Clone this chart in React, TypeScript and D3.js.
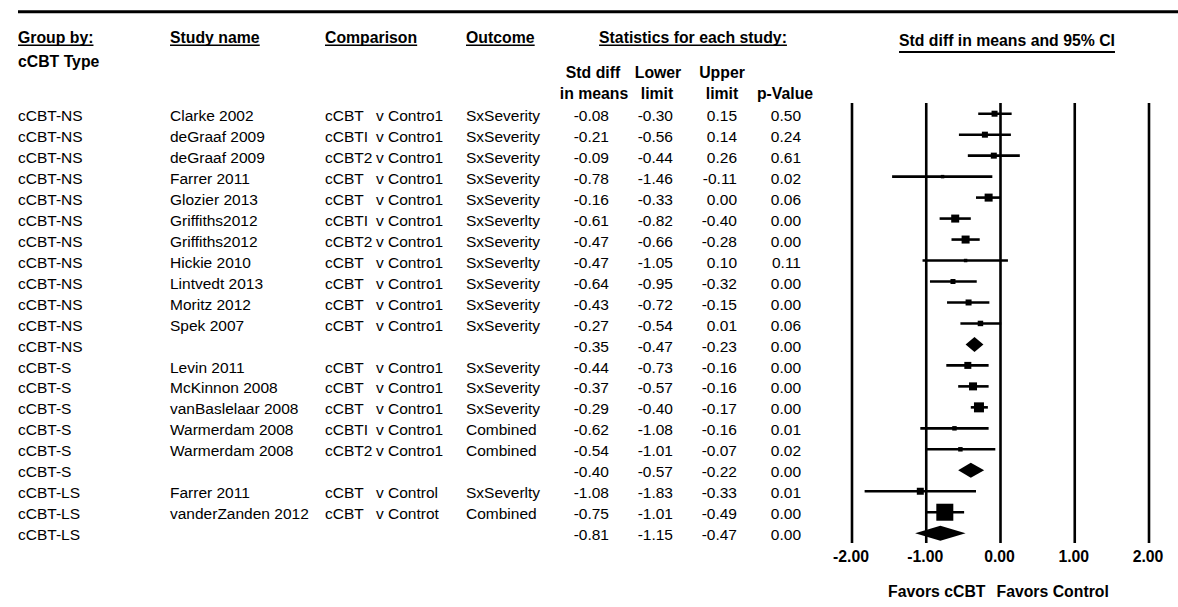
import React, { useLayoutEffect, useRef, useState } from "react";
import * as d3 from "d3";

// ---------- data ----------
const groups = [
  "cCBT-NS", "cCBT-NS", "cCBT-NS", "cCBT-NS", "cCBT-NS", "cCBT-NS", "cCBT-NS",
  "cCBT-NS", "cCBT-NS", "cCBT-NS", "cCBT-NS", "cCBT-NS",
  "cCBT-S", "cCBT-S", "cCBT-S", "cCBT-S", "cCBT-S", "cCBT-S",
  "cCBT-LS", "cCBT-LS", "cCBT-LS",
];
const studies = [
  "Clarke 2002", "deGraaf 2009", "deGraaf 2009", "Farrer 2011", "Glozier 2013",
  "Griffiths2012", "Griffiths2012", "Hickie 2010", "Lintvedt 2013", "Moritz 2012",
  "Spek 2007", "",
  "Levin 2011", "McKinnon 2008", "vanBaslelaar 2008", "Warmerdam 2008", "Warmerdam 2008", "",
  "Farrer 2011", "vanderZanden 2012", "",
];
const comparisonArms = [
  "cCBT", "cCBTI", "cCBT2", "cCBT", "cCBT", "cCBTI", "cCBT2", "cCBT", "cCBT", "cCBT",
  "cCBT", "",
  "cCBT", "cCBT", "cCBT", "cCBTI", "cCBT2", "",
  "cCBT", "cCBT", "",
];
const comparisonControls = [
  "v Contro1", "v Contro1", "v Contro1", "v Contro1", "v Contro1", "v Contro1", "v Contro1",
  "v Contro1", "v Contro1", "v Contro1", "v Contro1", "",
  "v Contro1", "v Contro1", "v Contro1", "v Contro1", "v Contro1", "",
  "v Control", "v Controt", "",
];
const outcomes = [
  "SxSeverity", "SxSeverity", "SxSeverity", "SxSeverity", "SxSeverity", "SxSeverlty",
  "SxSeverity", "SxSeverlty", "SxSeverity", "SxSeverity", "SxSeverity", "",
  "SxSeverity", "SxSeverity", "SxSeverity", "Combined", "Combined", "",
  "SxSeverlty", "Combined", "",
];
const stdDiffs = [
  -0.08, -0.21, -0.09, -0.78, -0.16, -0.61, -0.47, -0.47, -0.64, -0.43, -0.27, -0.35,
  -0.44, -0.37, -0.29, -0.62, -0.54, -0.40,
  -1.08, -0.75, -0.81,
];
const lowerLimits = [
  -0.30, -0.56, -0.44, -1.46, -0.33, -0.82, -0.66, -1.05, -0.95, -0.72, -0.54, -0.47,
  -0.73, -0.57, -0.40, -1.08, -1.01, -0.57,
  -1.83, -1.01, -1.15,
];
const upperLimits = [
  0.15, 0.14, 0.26, -0.11, 0.00, -0.40, -0.28, 0.10, -0.32, -0.15, 0.01, -0.23,
  -0.16, -0.16, -0.17, -0.16, -0.07, -0.22,
  -0.33, -0.49, -0.47,
];
const pValues = [
  0.50, 0.24, 0.61, 0.02, 0.06, 0.00, 0.00, 0.11, 0.00, 0.00, 0.06, 0.00,
  0.00, 0.00, 0.00, 0.01, 0.02, 0.00,
  0.01, 0.00, 0.00,
];
// relative study weights (drive the box sizes); summary rows have none
const weights = [
  36, 36, 36, 12, 64, 64, 64, 12, 25, 36, 30, 0,
  49, 64, 100, 20, 20, 0,
  49, 289, 0,
];
const isSummary = studies.map((s) => s === "");
const tickValues = [-2, -1, 0, 1, 2];
const tickLabels = ["-2.00", "-1.00", "0.00", "1.00", "2.00"];

// ---------- layout ----------
const W = 1178;
const H = 607;
const FONT = "'Liberation Sans', Arial, Helvetica, sans-serif";
const FS = 15.5;
const FSB = 15.8;

const xScale = d3.scaleLinear().domain([-2, 2]).range([852, 1149]);
const rowScale = d3.scaleLinear().domain([0, stdDiffs.length - 1]).range([115.5, 535]);
const boxScale = d3.scaleSqrt().domain([0, 289]).range([0, 17]);

const fmt = (v: number) => v.toFixed(2);

function UText(props: {
  x: number; y: number; anchor?: string; gap?: number; sw?: number; children: string;
}) {
  const { x, y, anchor = "start", gap = 2.2, sw = 1.4, children } = props;
  const ref = useRef<SVGTextElement>(null);
  const [bb, setBb] = useState<{ x: number; w: number } | null>(null);
  useLayoutEffect(() => {
    if (ref.current) {
      const b = ref.current.getBBox();
      setBb({ x: b.x, w: b.width });
    }
  }, []);
  return (
    <g>
      <text ref={ref} x={x} y={y} textAnchor={anchor} fontWeight="bold" fontSize={FSB}>
        {children}
      </text>
      {bb && (
        <line x1={bb.x} x2={bb.x + bb.w} y1={y + gap} y2={y + gap} stroke="#000" strokeWidth={sw} />
      )}
    </g>
  );
}

export default function App() {
  const colGroup = 18;
  const colStudy = 170;
  const colArm = 325;
  const colCtrl = 376;
  const colOutcome = 466;
  const colEff = 609;
  const colLow = 673;
  const colUp = 737;
  const colP = 801;
  const plotTop = 103;
  const plotBottom = 543;

  return (
    <svg
      width={W}
      height={H}
      style={{ position: "absolute", left: 0, top: 0, background: "#fff" }}
      fontFamily={FONT}
      fontSize={FS}
      fill="#000"
    >
      <rect x={0} y={0} width={W} height={H} fill="#fff" />
      {/* top rule */}
      <line x1={18} x2={W} y1={11.8} y2={11.8} stroke="#000" strokeWidth={3} />

      {/* headers */}
      <UText x={colGroup} y={43}>Group by:</UText>
      <UText x={colStudy} y={43}>Study name</UText>
      <UText x={colArm} y={43}>Comparison</UText>
      <UText x={colOutcome} y={43}>Outcome</UText>
      <UText x={693} y={43} anchor="middle">Statistics for each study:</UText>
      <UText x={1007} y={46} anchor="middle" gap={6} sw={2}>Std diff in means and 95% CI</UText>
      <text x={colGroup} y={67} fontWeight="bold" fontSize={FSB}>cCBT Type</text>

      <g fontWeight="bold" textAnchor="middle" fontSize={FSB}>
        <text x={593} y={78}>Std diff</text>
        <text x={594} y={99}>in means</text>
        <text x={658} y={78}>Lower</text>
        <text x={657} y={99}>limit</text>
        <text x={722} y={78}>Upper</text>
        <text x={722} y={99}>limit</text>
        <text x={785} y={99}>p-Value</text>
      </g>

      {/* table rows */}
      {stdDiffs.map((d, i) => {
        const yb = rowScale(i) + 5.3;
        return (
          <g key={"r" + i}>
            <text x={colGroup} y={yb}>{groups[i]}</text>
            {studies[i] && <text x={colStudy} y={yb}>{studies[i]}</text>}
            {comparisonArms[i] && <text x={colArm} y={yb}>{comparisonArms[i]}</text>}
            {comparisonControls[i] && <text x={colCtrl} y={yb}>{comparisonControls[i]}</text>}
            {outcomes[i] && <text x={colOutcome} y={yb}>{outcomes[i]}</text>}
            <text x={colEff} y={yb} textAnchor="end">{fmt(d)}</text>
            <text x={colLow} y={yb} textAnchor="end">{fmt(lowerLimits[i])}</text>
            <text x={colUp} y={yb} textAnchor="end">{fmt(upperLimits[i])}</text>
            <text x={colP} y={yb} textAnchor="end">{fmt(pValues[i])}</text>
          </g>
        );
      })}

      {/* reference lines */}
      {tickValues.map((t) => (
        <line
          key={"v" + t}
          x1={xScale(t)}
          x2={xScale(t)}
          y1={plotTop}
          y2={plotBottom}
          stroke="#000"
          strokeWidth={2.6}
        />
      ))}

      {/* forest marks */}
      {stdDiffs.map((d, i) => {
        const y = rowScale(i) - 1.8;
        if (isSummary[i]) {
          const h = 7.5;
          const pts = [
            [xScale(lowerLimits[i]), y],
            [xScale(d), y - h],
            [xScale(upperLimits[i]), y],
            [xScale(d), y + h],
          ]
            .map((p) => p.join(","))
            .join(" ");
          return <polygon key={"m" + i} points={pts} fill="#000" />;
        }
        const s = boxScale(weights[i]);
        return (
          <g key={"m" + i}>
            <line
              x1={xScale(lowerLimits[i])}
              x2={xScale(upperLimits[i])}
              y1={y}
              y2={y}
              stroke="#000"
              strokeWidth={2.6}
            />
            <rect x={xScale(d) - s / 2} y={y - s / 2} width={s} height={s} fill="#000" />
          </g>
        );
      })}

      {/* axis labels */}
      <g fontWeight="bold" textAnchor="middle" fontSize={FSB}>
        {tickValues.map((t, k) => (
          <text key={"t" + t} x={xScale(t) - 1} y={561.5}>{tickLabels[k]}</text>
        ))}
      </g>
      <text x={xScale(0) - 15} y={596.5} fontWeight="bold" fontSize={FSB} textAnchor="end">Favors cCBT</text>
      <text x={xScale(0) - 4} y={596.5} fontWeight="bold" fontSize={FSB}>Favors Control</text>
    </svg>
  );
}
